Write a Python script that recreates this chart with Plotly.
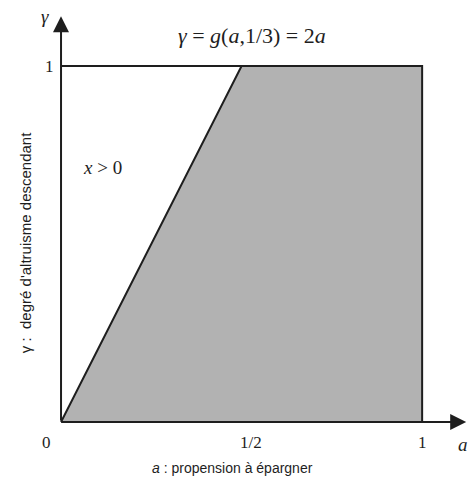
import plotly.graph_objects as go

# zone grisée : à droite de la droite gamma = 2a
region_a = [0, 0.5, 1, 1, 0]
region_gamma = [0, 1, 1, 0, 0]

# bord supérieur gamma = 1
top_a = [0, 1]
top_gamma = [1, 1]

# graduations
xtick_vals = [0, 0.5, 1]
xtick_text = ["0", "1/2", "1"]
xtick_shift = [-15, 9, 0]
ytick_vals = [1]
ytick_text = ["1"]

serif = "Liberation Serif"
sans = "Liberation Sans"
ink = "#1e1e1e"

fig = go.Figure()

fig.add_trace(go.Scatter(
    x=region_a, y=region_gamma, mode="lines", fill="toself",
    fillcolor="#b2b2b2", line=dict(color=ink, width=2),
    hoverinfo="skip", showlegend=False,
))
fig.add_trace(go.Scatter(
    x=top_a, y=top_gamma, mode="lines",
    line=dict(color=ink, width=2), hoverinfo="skip", showlegend=False,
))

# axes avec flèches
fig.add_annotation(x=1.122, y=0, ax=0, ay=0, xref="x", yref="y", axref="x", ayref="y",
                   showarrow=True, arrowhead=2, arrowsize=1.6, arrowwidth=2, arrowcolor=ink, text="")
fig.add_annotation(x=0, y=1.14, ax=0, ay=0, xref="x", yref="y", axref="x", ayref="y",
                   showarrow=True, arrowhead=2, arrowsize=1.6, arrowwidth=2, arrowcolor=ink, text="")

for v, t, s in zip(xtick_vals, xtick_text, xtick_shift):
    fig.add_annotation(x=v, y=-0.058, text=t, showarrow=False, xshift=s,
                       font=dict(family=serif, size=17, color=ink))
for v, t in zip(ytick_vals, ytick_text):
    fig.add_annotation(x=-0.033, y=v, text=t, showarrow=False,
                       font=dict(family=serif, size=17, color=ink))

fig.add_annotation(x=1.112, y=-0.062, text="<i>a</i>", showarrow=False,
                   font=dict(family=serif, size=19, color=ink))
fig.add_annotation(x=-0.045, y=1.14, text="<i>γ</i>", showarrow=False,
                   font=dict(family=serif, size=19, color=ink))
fig.add_annotation(x=0.53, y=1.085, text="<i>γ</i> = <i>g</i>(<i>a</i>,1/3) = 2<i>a</i>",
                   showarrow=False, font=dict(family=serif, size=22, color=ink))
fig.add_annotation(x=0.115, y=0.715, text="<i>x</i> > 0", showarrow=False,
                   font=dict(family=serif, size=19, color=ink))
fig.add_annotation(x=0.475, y=-0.128, text="<i>a</i> : propension à épargner", showarrow=False,
                   font=dict(family=sans, size=14, color=ink))
fig.add_annotation(x=-0.1, y=0.505, text="γ :  degré d'altruisme descendant", showarrow=False,
                   textangle=-90, font=dict(family=sans, size=15, color=ink))

fig.update_xaxes(range=[-0.169, 1.127], visible=False, fixedrange=True)
fig.update_yaxes(range=[-0.1545, 1.1854], visible=False, fixedrange=True)
fig.update_layout(
    width=468, height=477,
    margin=dict(l=0, r=0, t=0, b=0),
    plot_bgcolor="white", paper_bgcolor="white",
)

fig.write_html(
    "out.html",
    config={"displayModeBar": False},
    post_script="document.body.style.margin='0';document.body.style.overflow='hidden';",
)
